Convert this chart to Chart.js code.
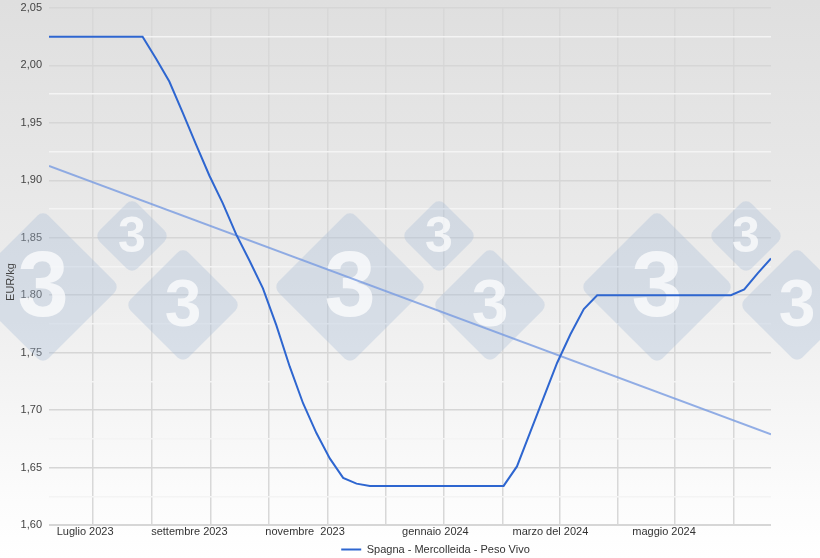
<!DOCTYPE html>
<html>
<head>
<meta charset="utf-8">
<script src="https://cdn.jsdelivr.net/npm/chart.js@4.4.1/dist/chart.umd.min.js"></script>
<style>
  html, body { margin: 0; padding: 0; background: #fff; }
  #wrap { width: 820px; height: 558px; }
</style>
</head>
<body>
<div id="wrap"><canvas id="myChart" width="820" height="558"></canvas></div>
<script>
// weekly price, EUR/kg (Spagna - Mercolleida - Peso Vivo)
const prices = [
    2.025, 2.025, 2.025, 2.025, 2.025, 2.025, 2.025, 2.025,
    2.006, 1.986, 1.959, 1.931, 1.904, 1.880, 1.853, 1.830,
    1.806, 1.774, 1.738, 1.706, 1.680, 1.658, 1.641, 1.636,
    1.634, 1.634, 1.634, 1.634, 1.634, 1.634, 1.634, 1.634, 1.634, 1.634, 1.634,
    1.651, 1.681, 1.711, 1.741, 1.766, 1.788,
    1.800, 1.800, 1.800, 1.800, 1.800, 1.800, 1.800, 1.800, 1.800, 1.800, 1.800,
    1.805, 1.819, 1.832
];
// trend line, start and end value
const trendEnds = [1.9125, 1.679];

// x axis (in weeks from the first price)
const monthLabels = ['Luglio 2023', 'settembre 2023', 'novembre  2023', 'gennaio 2024', 'marzo del 2024', 'maggio 2024'];
const labelWeeks = [2.7, 10.5, 19.15, 28.9, 37.5, 46.0];
const gridWeeks = [3.3, 7.7, 12.1, 16.45, 20.85, 25.2, 29.5, 33.95, 38.2, 42.55, 46.8, 51.2];
const yTitle = 'EUR/kg';

const lastWeek = prices.length - 1;
const mainPoints = prices.map((v, i) => ({ x: i, y: v }));
const trendPoints = [{ x: 0, y: trendEnds[0] }, { x: lastWeek, y: trendEnds[1] }];

const font = "'Liberation Sans', Arial, sans-serif";

const background = {
    id: 'background',
    beforeDraw(chart) {
        const c = chart.ctx;
        const g = c.createLinearGradient(0, 0, 0, chart.height);
        g.addColorStop(0, '#dfdfdf');
        g.addColorStop(0.5, '#ececec');
        g.addColorStop(0.9, '#fcfcfc');
        g.addColorStop(1, '#ffffff');
        c.save();
        c.fillStyle = g;
        c.fillRect(0, 0, chart.width, chart.height);
        c.restore();
    }
};

// pig333 style watermark (three groups of diamonds)
const watermark = {
    id: 'watermark',
    beforeDatasetsDraw(chart) {
        const c = chart.ctx;
        const marks = [];
        [43, 350, 657].forEach(x0 => {
            marks.push([x0, 287, 77, 92]);
            marks.push([x0 + 89, 236, 38, 50]);
            marks.push([x0 + 140, 305, 58, 66]);
        });
        c.save();
        marks.forEach(([cx, cy, h, fs]) => {
            const s = h * Math.SQRT2;
            c.save();
            c.translate(cx, cy);
            c.rotate(Math.PI / 4);
            c.beginPath();
            c.roundRect(-s / 2, -s / 2, s, s, 8);
            c.fillStyle = 'rgba(170,190,215,0.35)';
            c.fill();
            c.restore();
            c.fillStyle = 'rgba(255,255,255,0.72)';
            c.font = 'bold ' + fs + 'px ' + font;
            c.textAlign = 'center';
            c.textBaseline = 'middle';
            c.fillText('3', cx, cy + fs * 0.04);
        });
        c.restore();
    }
};

// move the legend a bit to the right, like the original
const legendShift = {
    id: 'legendShift',
    afterLayout(chart) {
        chart.legend.left += 50;
        chart.legend.right += 50;
    }
};

// y axis title sits a little lower than the middle of the plot
const axisTitle = {
    id: 'axisTitle',
    afterDraw(chart) {
        const c = chart.ctx;
        c.save();
        c.translate(11, chart.height / 2 + 3);
        c.rotate(-Math.PI / 2);
        c.font = '11px ' + font;
        c.fillStyle = '#444';
        c.textAlign = 'center';
        c.textBaseline = 'middle';
        c.fillText(yTitle, 0, 0);
        c.restore();
    }
};

const ctx = document.getElementById('myChart').getContext('2d');
const myChart = new Chart(ctx, {
    type: 'line',
    data: {
        datasets: [
            {
                label: 'Spagna - Mercolleida - Peso Vivo',
                data: mainPoints,
                borderColor: '#2e66d0',
                backgroundColor: '#2e66d0',
                borderWidth: 2,
                pointRadius: 0,
                tension: 0
            },
            {
                label: 'trend',
                data: trendPoints,
                borderColor: 'rgba(120,155,225,0.8)',
                borderWidth: 2,
                pointRadius: 0,
                tension: 0
            }
        ]
    },
    options: {
        responsive: false,
        maintainAspectRatio: false,
        animation: false,
        layout: { padding: { top: 8, right: 49, left: 0, bottom: 0 } },
        scales: {
            x: {
                type: 'linear',
                min: 0,
                max: lastWeek,
                afterBuildTicks: axis => {
                    axis.ticks = gridWeeks.concat(labelWeeks).map(v => ({ value: v }));
                },
                afterFit: axis => { axis.height = 13; },
                border: { display: false },
                grid: {
                    drawTicks: false,
                    lineWidth: 1.5,
                    color: c => labelWeeks.includes(c.tick && c.tick.value) ? 'transparent' : '#d8d8d8'
                },
                ticks: {
                    autoSkip: false,
                    maxRotation: 0,
                    padding: 0,
                    color: '#333',
                    font: { family: font, size: 11 },
                    callback: v => {
                        const k = labelWeeks.indexOf(v);
                        return k >= 0 ? monthLabels[k] : '';
                    }
                }
            },
            y: {
                min: 1.6,
                max: 2.05,
                afterFit: axis => {
                    axis.width = 49;
                    axis.paddingTop = 0;
                    axis.paddingBottom = 0;
                },
                border: { display: false },
                grid: {
                    drawTicks: false,
                    lineWidth: c => Math.round(c.tick.value * 1000) === 1600 ? 2 : 1.5,
                    color: c => Math.round(c.tick.value * 1000) % 50 === 0 ? '#d6d6d6' : '#f4f4f4'
                },
                ticks: {
                    stepSize: 0.025,
                    padding: 7,
                    color: '#444',
                    font: { family: font, size: 11 },
                    callback: v => Math.round(v * 1000) % 50 === 0 ? v.toFixed(2).replace('.', ',') : ''
                }
            }
        },
        plugins: {
            tooltip: { enabled: false },
            legend: {
                position: 'bottom',
                maxHeight: 20,
                labels: {
                    filter: item => item.datasetIndex === 0,
                    usePointStyle: true,
                    pointStyle: 'line',
                    pointStyleWidth: 20,
                    padding: 6,
                    color: '#333',
                    font: { family: font, size: 11 }
                }
            }
        }
    },
    plugins: [background, watermark, legendShift, axisTitle]
});
</script>
</body>
</html>
